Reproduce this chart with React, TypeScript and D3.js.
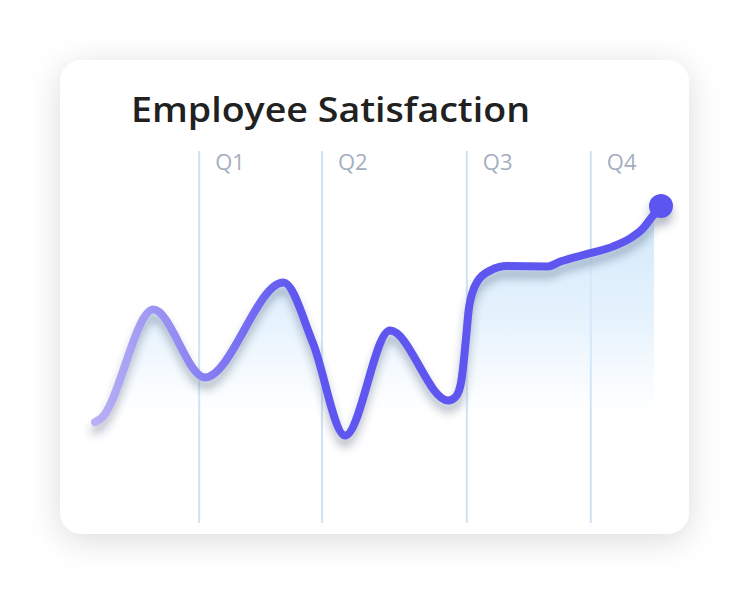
import React from "react";
import * as d3 from "d3";

// ---- data ----
const title = "Employee Satisfaction";
const quarterLabels = ["Q1", "Q2", "Q3", "Q4"];
const quarterPositions = [18.4, 40.1, 65.7, 87.6];
const timeline = [
  0, 1.0, 10.3, 19.4, 33.3, 38.5, 44.2, 52.1, 62.4, 63.6, 64.3, 64.75, 65.1, 65.55, 66.1, 67.5,
  69.8, 72.8, 80.0, 82.2, 87.5, 91.5, 94.5, 96.8, 98.4, 100,
];
const satisfaction = [
  19.3, 20.4, 56.8, 34.2, 65.8, 45.7, 14.8, 49.8, 26.5, 27.5, 29.7, 33.3, 38.7, 47.3, 57.7, 66.0,
  69.8, 71.3, 71.2, 72.8, 75.6, 77.8, 80.5, 83.8, 87.7, 91.3,
];

const W = 748;
const H = 594;

export default function App() {
  const x = d3.scaleLinear().domain([0, 100]).range([95, 661]);
  const y = d3.scaleLinear().domain([0, 100]).range([480, 180]);

  const points: [number, number][] = timeline.map((t, i) => [t, satisfaction[i]]);

  const line = d3
    .line<[number, number]>()
    .x((d) => x(d[0]))
    .y((d) => y(d[1]))
    .curve(d3.curveMonotoneX);

  const area = d3
    .area<[number, number]>()
    .x((d) => x(d[0]))
    .y0(440)
    .y1((d) => y(d[1]))
    .curve(d3.curveMonotoneX);

  const last = points[points.length - 1];

  return (
    <svg
      width={W}
      height={H}
      viewBox={`0 0 ${W} ${H}`}
      style={{ position: "absolute", left: 0, top: 0, display: "block" }}
    >
      <defs>
        <filter id="cardShadow" x="-20%" y="-20%" width="140%" height="140%">
          <feDropShadow dx="0" dy="6" stdDeviation="16" floodColor="#000" floodOpacity="0.14" />
        </filter>
        <filter id="lineShadow" x="-10%" y="-20%" width="120%" height="150%">
          <feDropShadow dx="0" dy="8" stdDeviation="4.5" floodColor="#2a3a58" floodOpacity="0.34" />
        </filter>
        <linearGradient id="strokeGrad" gradientUnits="userSpaceOnUse" x1={x(0)} y1="0" x2={x(36)} y2="0">
          <stop offset="0" stopColor="#b8b0f4" />
          <stop offset="1" stopColor="#5e56f0" />
        </linearGradient>
        <linearGradient id="areaGrad" gradientUnits="userSpaceOnUse" x1="0" y1="225" x2="0" y2="415">
          <stop offset="0" stopColor="#d2e8fb" stopOpacity="0.95" />
          <stop offset="0.55" stopColor="#d8ecfc" stopOpacity="0.6" />
          <stop offset="1" stopColor="#e4f2fd" stopOpacity="0" />
        </linearGradient>
        <clipPath id="areaClip">
          <rect x={0} y={0} width={x(last[0]) - 7} height={H} />
        </clipPath>
      </defs>

      <rect width={W} height={H} fill="#ffffff" />
      <rect x={60} y={60} width={629} height={474} rx={22} fill="#ffffff" filter="url(#cardShadow)" />

      <text
        x={131}
        y={122}
        fontFamily="'Open Sans', sans-serif"
        fontWeight={600}
        fontSize={34}
        fill="#212121"
        textLength={399}
        lengthAdjust="spacingAndGlyphs"
      >
        {title}
      </text>

      {quarterPositions.map((q, i) => (
        <g key={quarterLabels[i]}>
          <line x1={x(q)} x2={x(q)} y1={151} y2={523} stroke="#cfe3f6" strokeWidth={2} />
          <text
            x={x(q) + 16}
            y={170}
            fontFamily="'Open Sans', sans-serif"
            fontSize={22}
            fill="#a4aec0"
          >
            {quarterLabels[i]}
          </text>
        </g>
      ))}

      <path d={area(points) || ""} fill="url(#areaGrad)" clipPath="url(#areaClip)" />

      <g filter="url(#lineShadow)">
        <path
          d={line(points) || ""}
          fill="none"
          stroke="url(#strokeGrad)"
          strokeWidth={8}
          strokeLinecap="round"
          strokeLinejoin="round"
        />
        <circle cx={x(last[0])} cy={y(last[1])} r={12} fill="#5c55ef" />
      </g>
    </svg>
  );
}
